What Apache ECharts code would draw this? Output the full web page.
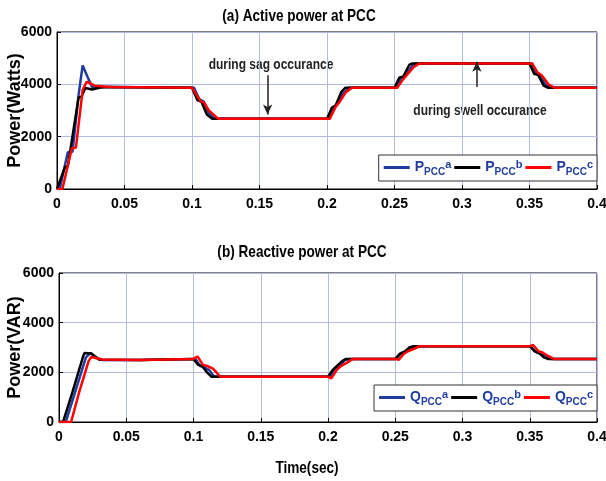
<!DOCTYPE html>
<html>
<head>
<meta charset="utf-8">
<script src="https://cdn.jsdelivr.net/npm/echarts@6/dist/echarts.min.js"></script>
<style>
  html, body { margin: 0; padding: 0; background: #fff; }
  #pic { width: 606px; height: 481px; }
</style>
</head>
<body>
<div id="pic"></div>
<script>
// time ticks and power ticks
var timeTicks = [0, 0.05, 0.1, 0.15, 0.2, 0.25, 0.3, 0.35, 0.4];
var powerTicks = [0, 2000, 4000, 6000];

// (a) active power at PCC, [time, watts]
var pA = [[0,0],[0.002,0],[0.008,1400],[0.0115,1420],[0.016,3600],[0.019,4720],[0.0225,4300],[0.026,3900],[0.04,3900],
  [0.1,3870],[0.1015,3870],[0.1055,3420],[0.1085,3350],[0.1125,2900],[0.1165,2700],[0.12,2680],
  [0.2,2680],[0.2015,2680],[0.205,3100],[0.208,3250],[0.212,3650],[0.2165,3870],
  [0.25,3870],[0.2515,3870],[0.255,4250],[0.258,4300],[0.263,4700],[0.266,4800],
  [0.35,4800],[0.3515,4800],[0.3555,4400],[0.358,4300],[0.3625,3950],[0.3665,3870],[0.4,3870]];
var pB = [[0,0],[0.001,0],[0.006,850],[0.008,860],[0.016,3500],[0.018,3520],[0.021,3860],[0.026,3800],[0.032,3880],[0.04,3900],
  [0.1,3870],[0.104,3400],[0.107,3330],[0.111,2850],[0.115,2680],
  [0.2,2680],[0.2035,3100],[0.2065,3200],[0.2105,3700],[0.2135,3870],
  [0.25,3870],[0.2535,4250],[0.2565,4300],[0.261,4750],[0.2635,4800],
  [0.35,4800],[0.3535,4400],[0.3565,4350],[0.3605,3950],[0.3635,3870],[0.4,3870]];
var pC = [[0,0],[0.004,0],[0.011,1560],[0.014,1580],[0.019,3780],[0.022,4100],[0.028,3950],[0.04,3900],
  [0.1,3870],[0.1005,3870],[0.1065,3350],[0.109,3300],[0.1125,3000],[0.1195,2680],
  [0.2,2680],[0.202,2680],[0.2065,3150],[0.209,3300],[0.214,3700],[0.2185,3870],
  [0.25,3870],[0.252,3870],[0.2565,4200],[0.259,4350],[0.264,4650],[0.2685,4800],
  [0.35,4800],[0.352,4800],[0.356,4450],[0.359,4350],[0.364,4000],[0.3685,3870],[0.4,3870]];

// (b) reactive power at PCC, [time, VAR]
var qA = [[0,0],[0.005,0],[0.012,1200],[0.02,2600],[0.0235,2780],[0.027,2600],[0.032,2500],[0.06,2500],
  [0.1,2540],[0.1015,2540],[0.105,2250],[0.108,2200],[0.1115,2100],[0.115,1850],[0.118,1820],
  [0.2,1820],[0.2015,1820],[0.205,2150],[0.208,2200],[0.2125,2500],[0.2165,2540],
  [0.25,2540],[0.2515,2600],[0.255,2800],[0.258,2850],[0.262,3000],[0.2655,3050],
  [0.35,3050],[0.3515,3000],[0.355,2800],[0.358,2750],[0.3625,2600],[0.3665,2540],[0.4,2540]];
var qB = [[0,0],[0.003,0],[0.01,1200],[0.018,2650],[0.019,2780],[0.024,2760],[0.03,2510],[0.06,2500],
  [0.1,2540],[0.1035,2300],[0.1065,2250],[0.11,2000],[0.1135,1820],
  [0.2,1820],[0.2035,2100],[0.2065,2250],[0.2105,2450],[0.2135,2540],
  [0.25,2540],[0.2535,2750],[0.2565,2800],[0.2605,3000],[0.2635,3050],
  [0.35,3050],[0.3535,2850],[0.3565,2800],[0.3605,2600],[0.3635,2540],[0.4,2540]];
var qC = [[0,0],[0.009,0],[0.015,1200],[0.022,2450],[0.024,2620],[0.032,2520],[0.06,2500],
  [0.1,2540],[0.103,2640],[0.107,2300],[0.11,2260],[0.1145,2150],[0.12,1820],
  [0.2,1820],[0.2025,1760],[0.2065,2100],[0.2095,2250],[0.2145,2400],[0.2185,2540],
  [0.25,2540],[0.2525,2500],[0.2565,2750],[0.2595,2850],[0.264,2950],[0.268,3050],
  [0.35,3050],[0.3525,3100],[0.3565,2850],[0.3595,2800],[0.364,2650],[0.368,2540],[0.4,2540]];

var seriesNames = ['Pa', 'Pb', 'Pc', 'Qa', 'Qb', 'Qc'];
var seriesData = [pA, pB, pC, qA, qB, qC];
var seriesColors = ['#1f3c9e', '#000000', '#ff0000', '#1f3c9e', '#000000', '#ff0000'];

var font = "'Liberation Sans', Arial, sans-serif";
var chart = echarts.init(document.getElementById('pic'));

function makeX(idx) {
  return {
    type: 'value', gridIndex: idx, min: 0, max: 0.4, interval: 0.05,
    axisLine: { lineStyle: { color: '#000', width: 1 } },
    axisTick: { inside: true, length: 4, lineStyle: { color: '#000' } },
    axisLabel: { color: '#000', fontFamily: font, fontWeight: 'bold', fontSize: 14, margin: 8,
      formatter: function (v) { return String(+v.toFixed(2)); } },
    splitLine: { show: true, lineStyle: { color: '#b3bce0', width: 1 } }
  };
}
function makeY(idx, name, gap) {
  return {
    type: 'value', gridIndex: idx, min: 0, max: 6000, interval: 2000,
    name: name, nameLocation: 'middle', nameGap: gap, nameMoveOverlap: false,
    nameTextStyle: { color: '#000', fontFamily: font, fontWeight: 'bold', fontSize: 18 },
    axisLine: { lineStyle: { color: '#000', width: 1 } },
    axisTick: { inside: true, length: 4, lineStyle: { color: '#000' } },
    axisLabel: { color: '#000', fontFamily: font, fontWeight: 'bold', fontSize: 14, margin: 5,
      formatter: function (v) { return String(v); } },
    splitLine: { show: true, lineStyle: { color: '#b3bce0', width: 1 } }
  };
}

var series = [];
for (var i = 0; i < seriesNames.length; i++) {
  series.push({
    name: seriesNames[i],
    type: 'line',
    xAxisIndex: i < 3 ? 0 : 1,
    yAxisIndex: i < 3 ? 0 : 1,
    data: seriesData[i],
    showSymbol: false,
    animation: false,
    z: 2 + (i % 3),
    lineStyle: { color: seriesColors[i], width: 2.5 },
    itemStyle: { color: seriesColors[i] }
  });
}

// arrows for the sag and swell notes
series.push({
  type: 'line', xAxisIndex: 0, yAxisIndex: 0, data: [], animation: false, silent: true,
  markLine: {
    silent: true, animation: false,
    symbol: ['none', 'arrow'], symbolSize: [7, 10],
    lineStyle: { color: '#222', width: 1.5, type: 'solid' },
    label: { show: false },
    data: [
      [{ coord: [0.156, 4350] }, { coord: [0.156, 2850] }],
      [{ coord: [0.311, 3900] }, { coord: [0.311, 4860] }]
    ]
  }
});

var legendRich = {
  n: { color: '#1f3c9e', fontFamily: font, fontWeight: 'bold', fontSize: 14 },
  s: { color: '#1f3c9e', fontFamily: font, fontWeight: 'bold', fontSize: 10, padding: [9, 0, 0, 0] },
  u: { color: '#1f3c9e', fontFamily: font, fontWeight: 'bold', fontSize: 11, padding: [0, 0, 6, 0] }
};
function legendFmt(name) {
  return '{n|' + name.charAt(0) + '}{s|PCC}{u|' + name.charAt(1) + '}';
}
function makeLegend(names, top) {
  return {
    data: names, right: 9, top: top, width: 260, orient: 'horizontal',
    backgroundColor: '#fff', borderColor: '#333', borderWidth: 1,
    padding: [4, 4, 4, 5], itemGap: 3, itemWidth: 26, itemHeight: 3,
    icon: 'rect', formatter: legendFmt,
    textStyle: { rich: legendRich }
  };
}

// narrow-looking text (reference uses a condensed face)
function narrowText(str, x, y, size, fill) {
  return { type: 'text', x: x, y: y, scaleX: 0.8, silent: true,
    style: { text: str, fontFamily: font, fontWeight: 'bold', fontSize: size, fill: fill,
      textAlign: 'center', textVerticalAlign: 'middle' } };
}

var option = {
  backgroundColor: '#fff',
  animation: false,
  grid: [
    { left: 57, right: 9, top: 32, height: 157, show: true, borderColor: '#000', borderWidth: 1,
      backgroundColor: 'transparent', outerBoundsMode: 'none', containLabel: false },
    { left: 59, right: 9, top: 273, height: 149, show: true, borderColor: '#000', borderWidth: 1,
      backgroundColor: 'transparent', outerBoundsMode: 'none', containLabel: false }
  ],
  xAxis: [makeX(0), makeX(1)],
  yAxis: [makeY(0, 'Power(Watts)', 33), makeY(1, 'Power(VAR)', 35)],
  legend: [
    makeLegend(['Pa', 'Pb', 'Pc'], 155),
    makeLegend(['Qa', 'Qb', 'Qc'], 385)
  ],
  graphic: [
    narrowText('(a) Active power at PCC', 299, 16, 17, '#000'),
    narrowText('(b) Reactive power at PCC', 302, 252, 17, '#000'),
    narrowText('Time(sec)', 307, 468, 17, '#000'),
    narrowText('during sag occurance', 271, 65, 15, '#222'),
    narrowText('during swell occurance', 480, 111, 15, '#222')
  ],
  series: series
};
chart.setOption(option);
</script>
</body>
</html>
